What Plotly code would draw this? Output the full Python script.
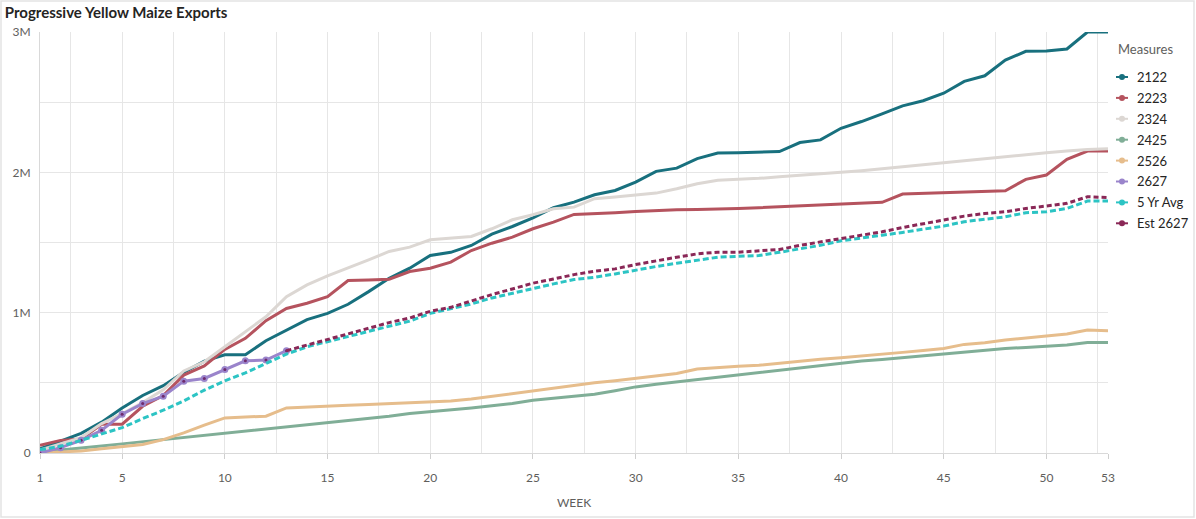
import plotly.graph_objects as go

# --- DATA (cumulative exports, millions) ---
weeks = list(range(1, 54))
week_ticks = [1, 5, 10, 15, 20, 25, 30, 35, 40, 45, 50, 53]
y_ticks = [0, 1e6, 2e6, 3e6]
y_tick_text = ["0", "1M", "2M", "3M"]

s2122 = [0.03, 0.085, 0.14, 0.22, 0.32, 0.41, 0.48, 0.575, 0.655, 0.70,
         0.70, 0.80, 0.876, 0.95, 0.995, 1.06, 1.15, 1.245, 1.317, 1.407,
         1.43, 1.479, 1.56, 1.614, 1.676, 1.748, 1.788, 1.84, 1.871, 1.93,
         2.007, 2.03, 2.098, 2.138, 2.14, 2.145, 2.148, 2.212, 2.231, 2.314,
         2.362, 2.417, 2.474, 2.51, 2.564, 2.648, 2.688, 2.80, 2.862, 2.864,
         2.879, 3.0, 3.0]
s2223 = [0.055, 0.09, 0.10, 0.205, 0.205, 0.333, 0.41, 0.555, 0.62, 0.738,
         0.817, 0.943, 1.03, 1.067, 1.114, 1.229, 1.233, 1.238, 1.293, 1.317,
         1.36, 1.443, 1.495, 1.538, 1.598, 1.645, 1.70, 1.705, 1.712, 1.721,
         1.729, 1.733, 1.736, 1.738, 1.743, 1.748, 1.755, 1.762, 1.767, 1.774,
         1.779, 1.786, 1.845, 1.85, 1.852, 1.855, 1.86, 1.869, 1.95, 1.981,
         2.093, 2.152, 2.152]
s2324 = [0.02, 0.067, 0.11, 0.21, 0.28, 0.36, 0.45, 0.585, 0.65, 0.757,
         0.864, 0.971, 1.114, 1.198, 1.262, 1.317, 1.376, 1.436, 1.467, 1.519,
         1.531, 1.543, 1.598, 1.662, 1.698, 1.74, 1.752, 1.812, 1.824, 1.836,
         1.852, 1.883, 1.919, 1.943, 1.948, 1.957, 1.968, 1.978, 1.99, 2.0,
         2.012, 2.025, 2.04, 2.055, 2.07, 2.085, 2.1, 2.113, 2.125, 2.14,
         2.152, 2.163, 2.168]
s2425 = [0.007, 0.02, 0.035, 0.05, 0.065, 0.08, 0.095, 0.11, 0.124, 0.138,
         0.152, 0.167, 0.183, 0.198, 0.214, 0.229, 0.245, 0.262, 0.281, 0.293,
         0.305, 0.32, 0.336, 0.352, 0.376, 0.39, 0.402, 0.418, 0.443, 0.471,
         0.49, 0.507, 0.525, 0.54, 0.555, 0.572, 0.59, 0.61, 0.627, 0.643,
         0.656, 0.667, 0.68, 0.693, 0.705, 0.72, 0.733, 0.745, 0.752, 0.762,
         0.769, 0.788, 0.788]
s2526 = [0.0, 0.005, 0.015, 0.03, 0.045, 0.06, 0.095, 0.143, 0.198, 0.25,
         0.257, 0.262, 0.321, 0.329, 0.333, 0.34, 0.345, 0.352, 0.357, 0.369,
         0.371, 0.385, 0.405, 0.425, 0.443, 0.462, 0.48, 0.5, 0.515, 0.531,
         0.55, 0.567, 0.598, 0.61, 0.619, 0.625, 0.64, 0.655, 0.668, 0.679,
         0.69, 0.702, 0.717, 0.73, 0.745, 0.774, 0.786, 0.805, 0.817, 0.833,
         0.848, 0.876, 0.872]
s2627 = [0.0, 0.038, 0.09, 0.162, 0.276, 0.352, 0.405, 0.512, 0.531, 0.595,
         0.657, 0.662, 0.729]
avg5 = [0.024, 0.048, 0.09, 0.138, 0.181, 0.245, 0.305, 0.371, 0.448, 0.514,
        0.571, 0.638, 0.705, 0.757, 0.793, 0.833, 0.864, 0.9, 0.94, 0.995,
        1.026, 1.062, 1.105, 1.138, 1.176, 1.205, 1.236, 1.252, 1.276, 1.305,
        1.329, 1.352, 1.376, 1.395, 1.402, 1.407, 1.43, 1.455, 1.48, 1.512,
        1.53, 1.552, 1.572, 1.593, 1.617, 1.648, 1.664, 1.683, 1.712, 1.719,
        1.743, 1.795, 1.795]
est2627 = [None] * 12 + [
        0.729, 0.769, 0.81, 0.852, 0.888, 0.929, 0.962, 1.01,
        1.038, 1.086, 1.129, 1.169, 1.21, 1.24, 1.271, 1.295, 1.312, 1.343,
        1.371, 1.395, 1.419, 1.431, 1.431, 1.438, 1.45, 1.48, 1.505, 1.529,
        1.552, 1.576, 1.607, 1.631, 1.66, 1.688, 1.707, 1.719, 1.743, 1.76,
        1.779, 1.826, 1.821]

M = 1e6
def scale(vals):
    return [None if v is None else v * M for v in vals]

series = [
    ("2122", s2122, "#18707e", None),
    ("2223", s2223, "#b5535e", None),
    ("2324", s2324, "#dcd7d3", None),
    ("2425", s2425, "#80ae97", None),
    ("2526", s2526, "#e6bd8c", None),
    ("2627", s2627, "#9a84cb", None),
    ("5 Yr Avg", avg5, "#2cc4c4", "6px,3px"),
    ("Est 2627", est2627, "#8a2857", "5px,3px"),
]

W, H = 1196, 519
L, R, T, B = 40, 88, 32, 66

def px_x(p):  # figure pixel -> paper x
    return (p - L) / (W - L - R)

def px_y(p):  # figure pixel -> paper y
    return (H - B - p) / (H - T - B)

fig = go.Figure()

for name, vals, color, dash in series:
    fig.add_trace(go.Scatter(
        x=weeks[:len(vals)], y=scale(vals), mode="lines", name=name,
        line=dict(color=color, width=3, dash=dash or "solid"),
        showlegend=False, cliponaxis=False if name == "2122" else True,
        hovertemplate=name + ": %{y:,.0f}<extra></extra>",
    ))
    if name == "2627":
        # actual weeks carry point markers
        fig.add_trace(go.Scatter(
            x=weeks[:len(vals)], y=scale(vals), mode="markers",
            marker=dict(color=color, size=7), showlegend=False, hoverinfo="skip"))
        fig.add_trace(go.Scatter(
            x=weeks[:len(vals)], y=scale(vals), mode="markers",
            marker=dict(color="#6e2b6e", size=3), showlegend=False, hoverinfo="skip"))

# --- hand-built legend (short line + dot, Power BI style) ---
shapes = [dict(type="rect", xref="paper", yref="paper",
               x0=px_x(1), x1=px_x(1194), y0=px_y(517), y1=px_y(1),
               line=dict(color="#e3e3e3", width=1.5), layer="below")]
annotations = [dict(text="Measures", xref="paper", yref="paper",
                    x=px_x(1116), y=px_y(49), xanchor="left", yanchor="middle",
                    showarrow=False, font=dict(size=13, color="#605e5c"))]
for i, (name, vals, color, dash) in enumerate(series):
    cy = px_y(77 + i * 20.9)
    shapes.append(dict(type="line", xref="paper", yref="paper",
                       x0=px_x(1116), x1=px_x(1128), y0=cy, y1=cy,
                       line=dict(color=color, width=2)))
    shapes.append(dict(type="circle", xref="paper", yref="paper",
                       xsizemode="pixel", ysizemode="pixel",
                       xanchor=px_x(1122), yanchor=cy, x0=-3, x1=3, y0=-3, y1=3,
                       fillcolor=color, line=dict(color=color, width=0)))
    annotations.append(dict(text=name, xref="paper", yref="paper",
                            x=px_x(1135), y=cy, xanchor="left", yanchor="middle",
                            showarrow=False, font=dict(size=13, color="#252423")))

fig.update_layout(
    width=W, height=H,
    margin=dict(l=L, r=R, t=T, b=B),
    paper_bgcolor="white", plot_bgcolor="white",
    font=dict(family="Segoe UI, Lato, sans-serif", size=12, color="#605e5c"),
    title=dict(text="<b>Progressive Yellow Maize Exports</b>", x=0.004, xanchor="left",
               y=0.975, yanchor="middle", font=dict(size=15, color="#252423")),
    showlegend=False,
    shapes=shapes,
    annotations=annotations,
)

fig.update_xaxes(
    range=[1, 53], tickmode="array", tickvals=week_ticks,
    showgrid=True, gridcolor="#e6e6e6", zeroline=False,
    ticks="outside", ticklen=5, tickcolor="#cfcfcf", ticklabelstandoff=9,
    showline=True, linecolor="#d9d9d9",
    minor=dict(tickvals=[w + 2.5 for w in range(0, 55, 5) if 1 < w + 2.5 < 53],
               showgrid=True, gridcolor="#e6e6e6"),
    title=dict(text="WEEK", font=dict(size=12, color="#605e5c"), standoff=14),
)
fig.update_yaxes(
    range=[0, 3 * M], tickmode="array", tickvals=y_ticks, ticktext=y_tick_text,
    showgrid=True, gridcolor="#e6e6e6", zeroline=False, ticklabelstandoff=6,
    showline=True, linecolor="#d9d9d9",
    minor=dict(tickvals=[0.5 * M, 1.5 * M, 2.5 * M], showgrid=True, gridcolor="#e6e6e6"),
)

# drop the default page margin so the 1196x519 figure fills the window exactly
fig.write_html("out.html", config={"displayModeBar": False},
               post_script="document.body.style.margin='0';")
